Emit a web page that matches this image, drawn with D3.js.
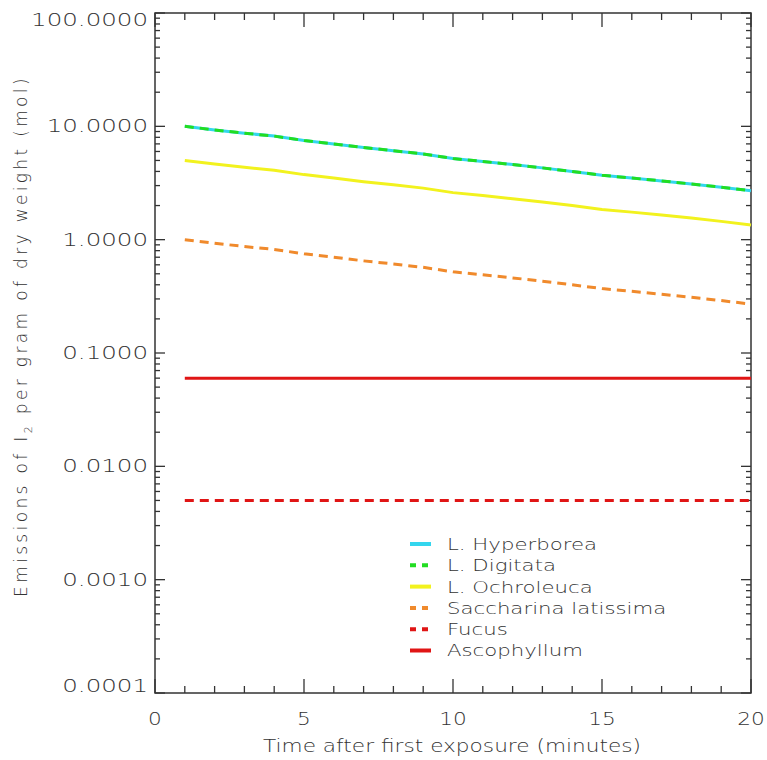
<!DOCTYPE html>
<html><head><meta charset="utf-8">
<script src="https://cdn.jsdelivr.net/npm/d3@7/dist/d3.min.js"></script>
<style>body{margin:0;background:#fff}svg text{font-family:"DejaVu Sans ExtraLight","DejaVu Sans",sans-serif;font-weight:200;fill:#333}</style>
</head><body><svg id="c" width="767" height="760"></svg>
<script>
const minutes = [1,2,3,4,5,6,7,8,9,10,11,12,13,14,15,16,17,18,19,20];
const hyperborea = [10.0,9.3,8.7,8.2,7.5,7.0,6.5,6.1,5.7,5.2,4.9,4.6,4.3,4.0,3.7,3.5,3.3,3.1,2.9,2.7];
const digitata   = [10.0,9.3,8.7,8.2,7.5,7.0,6.5,6.1,5.7,5.2,4.9,4.6,4.3,4.0,3.7,3.5,3.3,3.1,2.9,2.7];
const ochroleuca = [5.0,4.65,4.35,4.1,3.75,3.5,3.25,3.05,2.85,2.6,2.45,2.3,2.15,2.0,1.85,1.75,1.65,1.55,1.45,1.35];
const saccharina = [1.0,0.93,0.87,0.82,0.75,0.70,0.65,0.61,0.57,0.52,0.49,0.46,0.43,0.40,0.37,0.35,0.33,0.31,0.29,0.27];
const fucus      = [0.005,0.005,0.005,0.005,0.005,0.005,0.005,0.005,0.005,0.005,0.005,0.005,0.005,0.005,0.005,0.005,0.005,0.005,0.005,0.005];
const ascophyllum= [0.06,0.06,0.06,0.06,0.06,0.06,0.06,0.06,0.06,0.06,0.06,0.06,0.06,0.06,0.06,0.06,0.06,0.06,0.06,0.06];
const seriesNames = ["L. Hyperborea","L. Digitata","L. Ochroleuca","Saccharina latissima","Fucus","Ascophyllum"];
const seriesColors = ["#33d6ee","#22dd22","#f2f21e","#f08a2c","#e01515","#e01515"];
const seriesDashed = [false,true,false,true,true,false];
const seriesValues = [hyperborea,digitata,ochroleuca,saccharina,fucus,ascophyllum];
const yTickValues = [0.0001,0.001,0.01,0.1,1,10,100];
const yTickLabels = ["0.0001","0.0010","0.0100","0.1000","1.0000","10.0000","100.0000"];
const xTickValues = [0,5,10,15,20];

const L=155,R=751,T=13,B=693;
const svg=d3.select("#c");
const x=d3.scaleLinear().domain([0,20]).range([L,R]);
const y=d3.scaleLog().domain([0.0001,100]).range([B,T]);
const axisCol="#333";

svg.append("rect").attr("x",L).attr("y",T).attr("width",R-L).attr("height",B-T)
  .attr("fill","none").attr("stroke",axisCol).attr("stroke-width",1.5);

const yMinor=[];
for(let e=-4;e<2;e++) for(let m=1;m<10;m++) yMinor.push(m*Math.pow(10,e));
yMinor.push(100);
function yT(v){const maj=Math.abs(Math.log10(v)-Math.round(Math.log10(v)))<1e-9;return maj?10:5;}
svg.append("g").selectAll("line").data(yMinor).join("line")
  .attr("x1",L).attr("x2",d=>L+yT(d)).attr("y1",d=>y(d)).attr("y2",d=>y(d))
  .attr("stroke",axisCol).attr("stroke-width",1.3);
svg.append("g").selectAll("line").data(yMinor).join("line")
  .attr("x1",R).attr("x2",d=>R-yT(d)).attr("y1",d=>y(d)).attr("y2",d=>y(d))
  .attr("stroke",axisCol).attr("stroke-width",1.3);
const xAll=d3.range(0,21);
svg.append("g").selectAll("line").data(xAll).join("line")
  .attr("x1",d=>x(d)).attr("x2",d=>x(d)).attr("y1",B).attr("y2",d=>B-(d%5===0?14:7))
  .attr("stroke",axisCol).attr("stroke-width",1.3);
svg.append("g").selectAll("line").data(xAll).join("line")
  .attr("x1",d=>x(d)).attr("x2",d=>x(d)).attr("y1",T).attr("y2",d=>T+(d%5===0?14:7))
  .attr("stroke",axisCol).attr("stroke-width",1.3);

const nY=yTickValues.length;
const yl_=svg.append("g").selectAll("text").data(yTickValues).join("text")
  .attr("x",L-7).attr("y",(d,i)=>y(d)+(i===0?-7:(i===nY-1?7:0))).attr("dy","0.36em").attr("text-anchor","end")
  .attr("font-size",17).text((d,i)=>yTickLabels[i]);
yl_.each(function(){const w=this.getComputedTextLength();
  d3.select(this).attr("textLength",w*116/80.5).attr("lengthAdjust","spacingAndGlyphs");});
const xl_=svg.append("g").selectAll("text").data(xTickValues).join("text")
  .attr("x",d=>x(d)).attr("y",B+32).attr("text-anchor","middle")
  .attr("font-size",18).text(d=>d);
xl_.each(function(){const w=this.getComputedTextLength();
  d3.select(this).attr("textLength",w*1.2).attr("lengthAdjust","spacingAndGlyphs");});

const xt=svg.append("text").attr("x",(L+R)/2-1).attr("y",752).attr("text-anchor","middle")
  .attr("font-size",17).text("Time after first exposure (minutes)");
xt.attr("textLength",378).attr("lengthAdjust","spacingAndGlyphs");
const yl=svg.append("text").attr("transform","translate(27,336) rotate(-90)").attr("text-anchor","middle").attr("font-size",17);
yl.append("tspan").text("Emissions of I");
yl.append("tspan").attr("font-size",11).attr("dy",5).text("2");
yl.append("tspan").attr("dy",-5).text(" per gram of dry weight (mol)");
{const w=yl.node().getComputedTextLength();
 const n=yl.text().length; yl.attr("letter-spacing",((522-w)/n).toFixed(2)+"px");}

const line=d3.line().x((d,i)=>x(minutes[i])).y(d=>y(d));
[0,1,2,3,5,4].forEach(k=>{
  svg.append("path").attr("d",line(seriesValues[k])).attr("fill","none")
    .attr("stroke",seriesColors[k]).attr("stroke-width",3)
    .attr("stroke-dasharray",seriesDashed[k]?"9,6":null);
});

const lg=svg.append("g");
seriesNames.forEach((n,i)=>{
  const yy=544+i*21.3;
  lg.append("line").attr("x1",410).attr("x2",431).attr("y1",yy).attr("y2",yy)
    .attr("stroke",seriesColors[i]).attr("stroke-width",4)
    .attr("stroke-dasharray",seriesDashed[i]?"6,6":null);
  const t=lg.append("text").attr("x",447).attr("y",yy).attr("dy","0.36em").attr("font-size",16.5).text(n);
  const w=t.node().getComputedTextLength();
  t.attr("textLength",w*219/170).attr("lengthAdjust","spacingAndGlyphs");
});
</script></body></html>
